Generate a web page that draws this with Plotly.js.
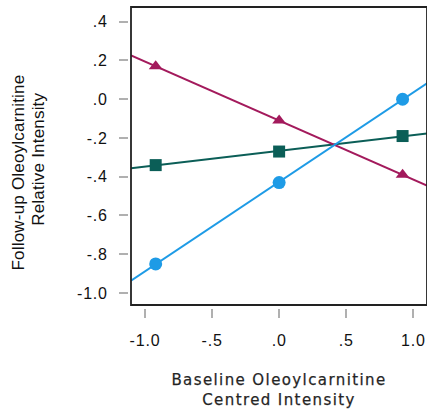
<!DOCTYPE html>
<html>
<head>
<meta charset="utf-8">
<script src="https://cdn.plot.ly/plotly-3.0.1.min.js"></script>
<style>
html,body{margin:0;padding:0;overflow:hidden;background:#fff;width:427px;height:413px;}
#chart{width:432px;height:413px;}
#chart .xtick text, #chart .ytick text{letter-spacing:0.8px;}
#chart .g-xtitle text{letter-spacing:1.4px;stroke:#333;stroke-width:0.25px;}
#chart .annotation-text{letter-spacing:0.2px;}
</style>
</head>
<body>
<div id="chart"></div>
<script>
// Data
var xLevels = [-0.92, 0, 0.92];
var seriesBlue = [-0.85, -0.43, 0.0];
var seriesGreen = [-0.34, -0.27, -0.19];
var seriesMagenta = [0.17, -0.11, -0.39];
var xTickVals = [-1.0, -0.5, 0.0, 0.5, 1.0];
var xTickText = ['-1.0', '-.5', '.0', '.5', '1.0'];
var yTickVals = [0.4, 0.2, 0.0, -0.2, -0.4, -0.6, -0.8, -1.0];
var yTickText = ['.4', '.2', '.0', '-.2', '-.4', '-.6', '-.8', '-1.0'];
var xTitle = 'Baseline Oleoylcarnitine<br>Centred Intensity';
var yTitle1 = 'Follow-up Oleoylcarnitine';
var yTitle2 = 'Relative Intensity';

var xRange = [-1.104, 1.102];
var yRange = [-1.062, 0.476];

function fit(xs, ys) {
  var n = xs.length, mx = 0, my = 0;
  for (var i = 0; i < n; i++) { mx += xs[i]; my += ys[i]; }
  mx /= n; my /= n;
  var sxy = 0, sxx = 0;
  for (var j = 0; j < n; j++) { sxy += (xs[j]-mx)*(ys[j]-my); sxx += (xs[j]-mx)*(xs[j]-mx); }
  var b = sxy / sxx, a = my - b*mx;
  return {x: [xRange[0], xRange[1]], y: [a + b*xRange[0], a + b*xRange[1]]};
}

var cBlue = '#1e9be6', cGreen = '#0b5e57', cMag = '#a31a5c';
function lineTrace(ys, col) {
  var f = fit(xLevels, ys);
  return {x: f.x, y: f.y, mode: 'lines', line: {color: col, width: 2}, hoverinfo: 'skip', showlegend: false};
}
function markTrace(ys, col, sym, size) {
  return {x: xLevels, y: ys, mode: 'markers', marker: {color: col, symbol: sym, size: size}, showlegend: false};
}

var data = [
  lineTrace(seriesGreen, cGreen),
  lineTrace(seriesMagenta, cMag),
  lineTrace(seriesBlue, cBlue),
  markTrace(seriesGreen, cGreen, 'square', 12),
  markTrace(seriesMagenta, cMag, 'triangle-up', 12),
  markTrace(seriesBlue, cBlue, 'circle', 13)
];

var tickFont = {family: 'Liberation Sans, Arial, sans-serif', size: 16, color: '#111'};
var layout = {
  width: 432, height: 413,
  margin: {l: 128, r: 5, t: 7, b: 105},
  paper_bgcolor: '#fff', plot_bgcolor: '#fff',
  xaxis: {
    range: xRange, domain: [0.01003, 1], anchor: 'free', position: 0,
    tickvals: xTickVals, ticktext: xTickText, tickfont: tickFont,
    ticks: 'outside', ticklen: 9, tickwidth: 2, tickcolor: '#b0b0b0', ticklabelstandoff: 9,
    showgrid: false, zeroline: false, showline: false,
    title: {text: xTitle, font: {family: 'DejaVu Sans, Verdana, sans-serif', size: 15, color: '#222'}, standoff: 26}
  },
  yaxis: {
    range: yRange, domain: [0.00997, 1], anchor: 'free', position: 0,
    tickvals: yTickVals, ticktext: yTickText, tickfont: tickFont,
    ticks: 'outside', ticklen: 9, tickwidth: 2, tickcolor: '#b0b0b0', ticklabelstandoff: 8,
    showgrid: false, zeroline: false, showline: false
  },
  shapes: [{type: 'rect', xref: 'x domain', yref: 'y domain', x0: 0, x1: 1, y0: 0, y1: 1,
    line: {color: '#222', width: 1.8}, fillcolor: 'rgba(0,0,0,0)', layer: 'above'}],
  annotations: [
    {text: yTitle1, textangle: -90, xref: 'paper', yref: 'paper', x: 19, y: 173, showarrow: false,
     font: {family: 'Liberation Sans, Arial, sans-serif', size: 17, color: '#111'}},
    {text: yTitle2, textangle: -90, xref: 'paper', yref: 'paper', x: 38, y: 159, showarrow: false,
     font: {family: 'Liberation Sans, Arial, sans-serif', size: 17, color: '#111'}}
  ]
};
// convert annotation pixel positions to paper fractions
(function(){
  var pl = layout.margin.l, pw = layout.width - layout.margin.l - layout.margin.r;
  var pt = layout.margin.t, ph = layout.height - layout.margin.t - layout.margin.b;
  layout.annotations.forEach(function(a){
    a.x = (a.x - pl) / pw; a.y = 1 - (a.y - pt) / ph;
    a.xanchor = 'center'; a.yanchor = 'middle';
  });
})();

Plotly.newPlot('chart', data, layout, {displayModeBar: false, staticPlot: true});
</script>
</body>
</html>
